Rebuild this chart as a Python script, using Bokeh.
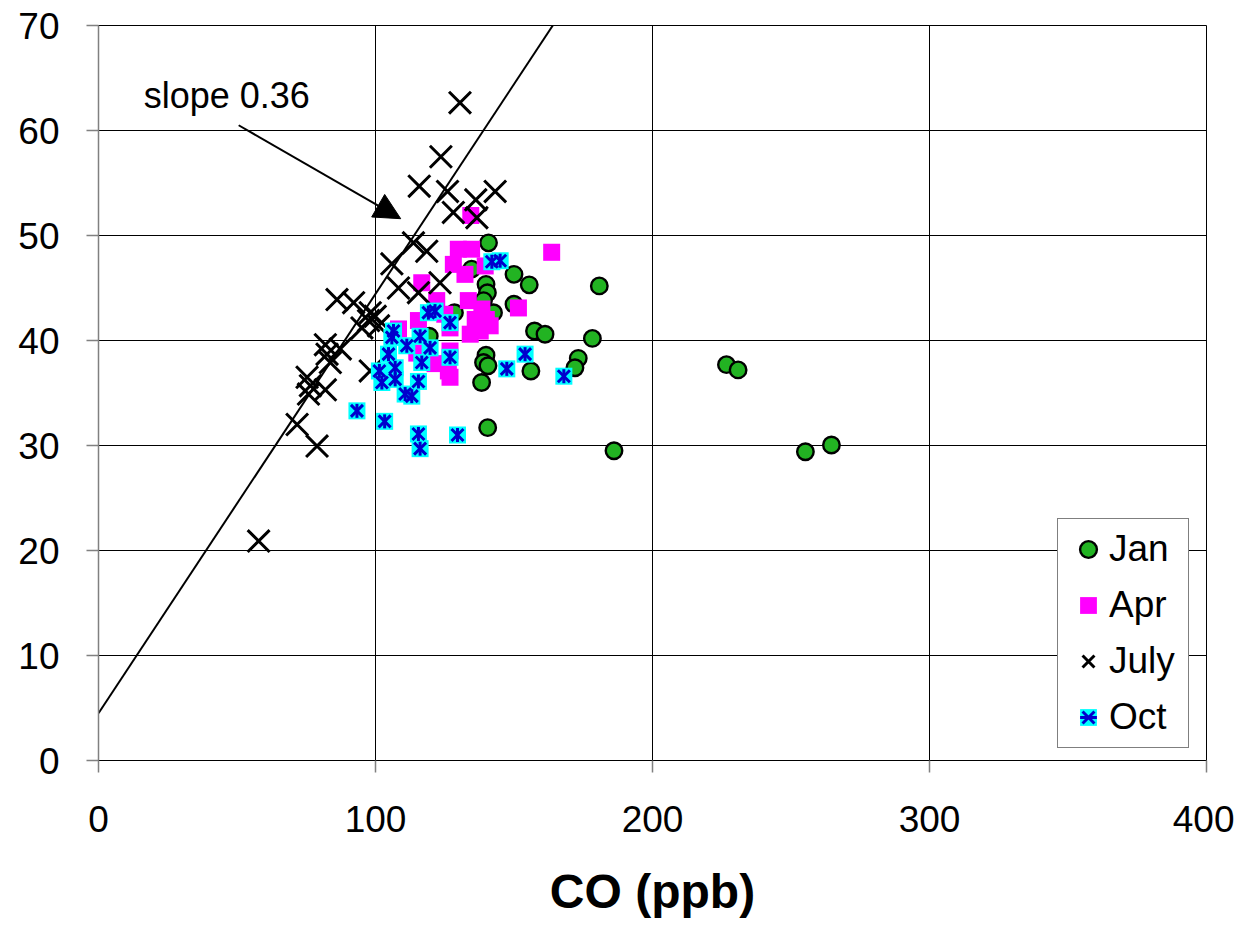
import math
from bokeh.plotting import figure
from bokeh.models import Range1d, FixedTicker, Legend, LegendItem, Label, Arrow, NormalHead
from bokeh.embed import file_html
from bokeh.resources import INLINE

# ---- data ----
jan_co = [140.8, 134.7, 150.0, 155.5, 139.9, 140.4, 139.0, 150.0, 142.6, 128.5, 119.4, 157.4, 161.2,
          139.9, 139.0, 140.6, 156.1, 138.3, 140.5, 180.8, 178.3, 173.2, 172.0, 186.1, 226.7, 230.9,
          255.2, 264.6]
jan_o3 = [49.3, 46.8, 46.3, 45.3, 45.35, 44.55, 43.8, 43.45, 42.65, 42.65, 40.4, 40.9, 40.6,
          38.6, 37.9, 37.6, 37.1, 36.0, 31.7, 45.2, 40.2, 38.3, 37.4, 29.5, 37.7, 37.2,
          29.4, 30.05]

apr_co = [134.4, 129.9, 134.7, 163.6, 128.1, 139.6, 132.3, 116.7, 122.1, 133.5, 138.4, 151.6, 115.5,
          108.3, 126.9, 134.2, 141.4, 137.8, 114.9, 126.9, 121.5, 126.3, 126.9, 125.0, 140.0, 136.0]
apr_o3 = [51.9, 48.7, 48.7, 48.4, 47.25, 47.1, 46.3, 45.5, 43.8, 43.8, 43.0, 43.1, 41.9,
          41.1, 41.2, 40.6, 41.4, 40.9, 38.8, 39.0, 37.8, 37.1, 36.5, 42.5, 42.0, 42.0]

jul_co = [130.5, 123.6, 115.8, 126.0, 143.2, 136.2, 128.1, 136.6, 113.7, 118.5, 105.9, 123.3, 108.3,
          115.5, 86.1, 92.1, 98.1, 99.9, 97.5, 95.1, 101.1, 81.9, 87.3, 82.5, 83.7, 98.1, 75.3,
          76.5, 81.9, 75.8, 71.7, 78.9, 57.8]
jul_o3 = [62.65, 57.5, 54.7, 54.2, 54.2, 53.4, 52.2, 51.7, 49.3, 48.5, 47.3, 45.5, 45.0,
          44.55, 43.9, 43.6, 42.65, 42.3, 41.9, 41.2, 41.4, 39.6, 39.2, 38.7, 37.9, 37.1, 36.5,
          35.7, 35.3, 34.9, 32.0, 29.95, 20.9]

oct_co = [121.5, 119.1, 126.9, 106.5, 105.9, 116.1, 111.3, 119.7, 104.7, 126.9, 116.7, 107.1, 101.4,
          102.3, 107.1, 115.5, 110.7, 113.1, 93.3, 103.3, 115.5, 116.1, 129.6, 142.0, 145.0, 154.0,
          147.4, 168.0]
oct_o3 = [42.8, 42.65, 41.7, 40.9, 40.3, 40.4, 39.5, 39.3, 38.7, 38.4, 37.9, 37.4, 37.1,
          36.0, 36.3, 36.1, 34.9, 34.7, 33.3, 32.3, 31.1, 29.7, 31.0, 47.5, 47.6, 38.7,
          37.3, 36.6]

slope_x = [0, 164.0]
slope_y = [4.5, 70.0]
slope_label = "slope 0.36"
arrow_start = (50.6, 60.5)
arrow_end = (109.1, 51.6)
label_pos = (16.3, 63.3)

x_ticks = [0, 100, 200, 300, 400]
y_ticks = [0, 10, 20, 30, 40, 50, 60, 70]
x_title = "CO (ppb)"

FONT = "Liberation Sans"

p = figure(width=1234, height=930, output_backend="svg", toolbar_location=None,
           x_range=Range1d(0, 400), y_range=Range1d(0, 70),
           min_border_left=98, min_border_right=28, min_border_top=25, min_border_bottom=170)
p.background_fill_color = "white"
p.border_fill_color = "white"
p.outline_line_color = "black"
p.outline_line_width = 1

p.xaxis.ticker = FixedTicker(ticks=x_ticks)
p.yaxis.ticker = FixedTicker(ticks=y_ticks)
for ax in (p.xaxis, p.yaxis):
    ax.major_label_text_font = FONT
    ax.major_label_text_font_size = "37px"
    ax.major_label_text_color = "black"
    ax.major_tick_out = 12
    ax.major_tick_in = 0
    ax.minor_tick_out = 0
    ax.minor_tick_in = 0
    ax.major_tick_line_color = "#808080"
    ax.major_tick_line_width = 1.5
p.xaxis.axis_line_color = "black"
p.yaxis.axis_line_color = "#808080"
p.yaxis.axis_line_width = 1.5
p.xaxis.major_label_standoff = 33
p.yaxis.major_label_standoff = 27
p.xaxis.axis_label = x_title
p.xaxis.axis_label_text_font = FONT
p.xaxis.axis_label_text_font_style = "bold"
p.xaxis.axis_label_text_font_size = "48px"
p.xaxis.axis_label_text_color = "black"
p.xaxis.axis_label_standoff = 30

p.xgrid.grid_line_color = "black"
p.ygrid.grid_line_color = "black"
p.xgrid.grid_line_width = 1
p.ygrid.grid_line_width = 1

# slope line
p.line(slope_x, slope_y, line_color="black", line_width=2)

r_jan = p.scatter(jan_co, jan_o3, marker="circle", size=16.5, fill_color="#22B322",
                  line_color="black", line_width=2.4)
r_apr = p.scatter(apr_co, apr_o3, marker="square", size=17, fill_color="#FF00FF",
                  line_color=None)
r_jul = p.scatter(jul_co, jul_o3, marker="x", size=31, line_color="black", line_width=3)
r_oct_bg = p.scatter(oct_co, oct_o3, marker="square", size=17, fill_color="#00FFFF",
                     line_color=None)
r_oct_x = p.scatter(oct_co, oct_o3, marker="x", size=17, line_color="#0000CD", line_width=3)
r_oct_v = p.scatter(oct_co, oct_o3, marker="dash", size=14, angle=math.pi / 2,
                    line_color="#0000CD", line_width=3)

p.add_layout(Arrow(end=NormalHead(size=26, fill_color="black", line_color="black"),
                   x_start=arrow_start[0], y_start=arrow_start[1],
                   x_end=arrow_end[0], y_end=arrow_end[1],
                   line_color="black", line_width=2))
p.add_layout(Label(x=label_pos[0], y=label_pos[1], text=slope_label, text_font=FONT,
                   text_font_size="36px", text_baseline="middle", text_color="black"))

legend = Legend(items=[
    LegendItem(label="Jan", renderers=[r_jan]),
    LegendItem(label="Apr", renderers=[r_apr]),
    LegendItem(label="July", renderers=[r_jul]),
    LegendItem(label="Oct", renderers=[r_oct_bg, r_oct_x, r_oct_v]),
], location=(959, 12))
legend.label_text_font = FONT
legend.label_text_font_size = "37px"
legend.label_text_color = "black"
legend.glyph_width = 42
legend.glyph_height = 42
legend.label_standoff = 0
legend.label_width = 70
legend.spacing = 14
legend.padding = 9
legend.margin = 0
legend.border_line_color = "black"
legend.border_line_width = 1
legend.background_fill_color = "white"
legend.background_fill_alpha = 1
p.add_layout(legend)

open("out.html", "w").write(file_html(p, INLINE))
